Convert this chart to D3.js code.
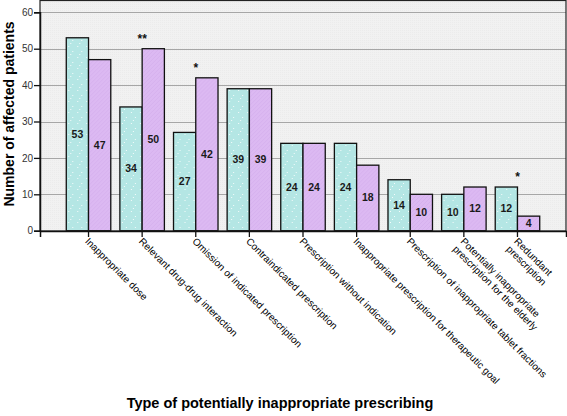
<!DOCTYPE html>
<html>
<head>
<meta charset="utf-8">
<script src="https://cdn.jsdelivr.net/npm/d3@7"></script>
<style>
  html, body { margin: 0; padding: 0; background: #fff; }
  svg { display: block; font-family: "Liberation Sans", Arial, sans-serif; }
</style>
</head>
<body>
<svg id="chart" width="567" height="416"></svg>
<script>
const categories = [
  "Inappropriate dose",
  "Relevant drug-drug interaction",
  "Omission of indicated prescription",
  "Contraindicated prescription",
  "Prescription without indication",
  "Inappropriate prescription for therapeutic goal",
  "Prescription of inappropriate tablet fractions",
  "Potentially inappropriate\nprescription for the elderly",
  "Redundant\nprescription"
];
const seriesA = [53, 34, 27, 39, 24, 24, 14, 10, 12];
const seriesB = [47, 50, 42, 39, 24, 18, 10, 12, 4];
const significance = ["", "**", "*", "", "", "", "", "", "*"];
const yTicks = [0, 10, 20, 30, 40, 50, 60];

const svg = d3.select("#chart");
const pLeft = 40, pRight = 566, pTop = 0, pBottom = 231;

const defs = svg.append("defs");
const pd = defs.append("pattern").attr("id", "dots").attr("patternUnits", "userSpaceOnUse")
  .attr("width", 9).attr("height", 11);
pd.append("rect").attr("width", 9).attr("height", 11).attr("fill", "#b4e6e4");
[[2,2],[6,7],[4,10]].forEach(p => pd.append("rect").attr("x", p[0]).attr("y", p[1]).attr("width", 1).attr("height", 1).attr("fill", "#ffffff").attr("opacity", 0.85));
const pb = defs.append("pattern").attr("id", "hatch").attr("patternUnits", "userSpaceOnUse")
  .attr("width", 4).attr("height", 4);
pb.append("rect").attr("width", 4).attr("height", 4).attr("fill", "#dcb9f2");
pb.append("path").attr("d", "M0,4 L4,0").attr("stroke", "#d4aeee").attr("stroke-width", 0.8);

const bg = defs.append("pattern").attr("id", "bgdots").attr("patternUnits", "userSpaceOnUse")
  .attr("width", 2).attr("height", 2);
bg.append("rect").attr("width", 2).attr("height", 2).attr("fill", "#f1f1f1");
bg.append("rect").attr("width", 1).attr("height", 1).attr("fill", "#ebebeb");

const x = d3.scaleBand().domain(categories).range([pLeft, pRight]).paddingInner(0.17).paddingOuter(0.49);
const xs = d3.scaleBand().domain(["A", "B"]).range([0, x.bandwidth()]);
const y = d3.scaleLinear().domain([0, 60]).range([pBottom - 0.3, 12.3]);

// plot background
svg.append("rect").attr("x", pLeft).attr("y", pTop).attr("width", pRight - pLeft).attr("height", pBottom - pTop)
  .attr("fill", "url(#bgdots)");

// gridlines
svg.append("g").selectAll("line").data(yTicks.filter(d => d > 0)).join("line")
  .attr("x1", pLeft).attr("x2", pRight)
  .attr("y1", d => Math.round(y(d)) + 0.5).attr("y2", d => Math.round(y(d)) + 0.5)
  .attr("stroke", "#a6a6a6").attr("stroke-width", 1.2);

// bars
const groups = svg.append("g").selectAll("g").data(categories).join("g")
  .attr("transform", d => `translate(${x(d)},0)`);

groups.append("rect")
  .attr("x", xs("A")).attr("width", xs.bandwidth())
  .attr("y", (d, i) => y(seriesA[i])).attr("height", (d, i) => y(0) - y(seriesA[i]))
  .attr("fill", "url(#dots)").attr("stroke", "#111").attr("stroke-width", 1.3);
groups.append("rect")
  .attr("x", xs("B")).attr("width", xs.bandwidth())
  .attr("y", (d, i) => y(seriesB[i])).attr("height", (d, i) => y(0) - y(seriesB[i]))
  .attr("fill", "url(#hatch)").attr("stroke", "#111").attr("stroke-width", 1.3);

// value labels
groups.append("text")
  .attr("x", xs("A") + xs.bandwidth() / 2)
  .attr("y", (d, i) => (y(seriesA[i]) + y(0)) / 2 + 3.5)
  .attr("text-anchor", "middle").attr("font-size", 10.5).attr("font-weight", 600).attr("fill", "#1a1a1a")
  .text((d, i) => seriesA[i]);
groups.append("text")
  .attr("x", xs("B") + xs.bandwidth() / 2)
  .attr("y", (d, i) => (y(seriesB[i]) + y(0)) / 2 + 3.5)
  .attr("text-anchor", "middle").attr("font-size", 10.5).attr("font-weight", 600).attr("fill", "#1a1a1a")
  .text((d, i) => seriesB[i]);

// significance
groups.append("text")
  .attr("x", x.bandwidth() / 2)
  .attr("y", (d, i) => y(Math.max(seriesA[i], seriesB[i])) - 6)
  .attr("text-anchor", "middle").attr("font-size", 12).attr("font-weight", 700).attr("fill", "#111")
  .text((d, i) => significance[i]);

// frame
svg.append("rect").attr("x", pLeft).attr("y", pTop + 0.5).attr("width", pRight - pLeft).attr("height", pBottom - pTop - 0.5)
  .attr("fill", "none").attr("stroke", "#222").attr("stroke-width", 1.2);

// y axis
const yAxis = svg.append("g").attr("transform", `translate(${pLeft},0)`)
  .call(d3.axisLeft(y).tickValues(yTicks).tickSize(6).tickPadding(1));
yAxis.select(".domain").attr("stroke", "#111").attr("stroke-width", 1.5);
yAxis.selectAll(".tick line").attr("stroke", "#111").attr("stroke-width", 1.3);
yAxis.selectAll(".tick text").attr("font-size", 10).attr("fill", "#333").attr("font-family", "Liberation Sans, Arial, sans-serif");

// x axis ticks + rotated labels
const xAxis = svg.append("g").attr("transform", `translate(0,${pBottom})`)
  .call(d3.axisBottom(x).tickSize(6).tickFormat(""));
xAxis.select(".domain").attr("stroke", "#111").attr("stroke-width", 1.5);
xAxis.selectAll(".tick line").attr("stroke", "#111").attr("stroke-width", 1.3);

xAxis.selectAll(".tick").each(function(d) {
  const lines = d.split("\n");
  const t = d3.select(this).append("text")
    .attr("transform", "translate(1,6) rotate(45)")
    .attr("text-anchor", "start").attr("font-size", 10).attr("fill", "#000")
    .attr("font-family", "Liberation Sans, Arial, sans-serif");
  lines.forEach((ln, k) => {
    t.append("tspan").attr("x", 0).attr("y", 7 + k * 11).text(ln);
  });
});

// axis titles
svg.append("text")
  .attr("transform", `translate(14,${114}) rotate(-90)`)
  .attr("text-anchor", "middle").attr("font-size", 14).attr("font-weight", 700).attr("fill", "#000")
  .text("Number of affected patients");
svg.append("text")
  .attr("x", 280).attr("y", 408)
  .attr("text-anchor", "middle").attr("font-size", 14.5).attr("font-weight", 700).attr("fill", "#000")
  .text("Type of potentially inappropriate prescribing");
</script>
</body>
</html>
